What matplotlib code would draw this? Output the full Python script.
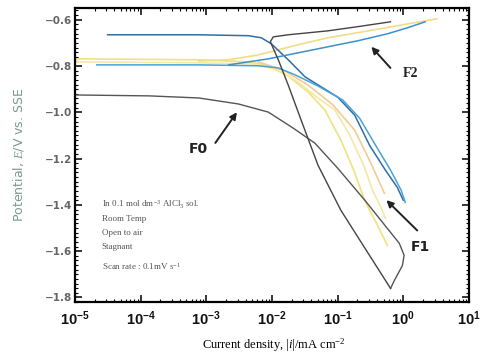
import matplotlib
matplotlib.use('Agg')
import matplotlib.pyplot as plt
from matplotlib.ticker import MultipleLocator, LogLocator, NullFormatter, FuncFormatter
import numpy as np

# F0: forward cathodic scan and reverse scan (current mA cm-2, potential V)
f0_fwd_i = [1.0e-5, 1.36e-4, 7.7e-4, 3.1e-3, 8.8e-3, 0.021, 0.045, 0.10, 0.26, 0.57, 0.87, 1.03, 0.97, 0.73, 0.64]
f0_fwd_e = [-0.925, -0.929, -0.938, -0.964, -0.999, -1.068, -1.133, -1.241, -1.380, -1.501, -1.566, -1.618, -1.662, -1.727, -1.761]
f0_rev_i = [0.64, 0.286, 0.112, 0.0502, 0.0278, 0.0177, 0.0125, 0.00946, 0.0105, 0.0177, 0.0711, 0.202, 0.637]
f0_rev_e = [-1.761, -1.605, -1.423, -1.228, -1.033, -0.882, -0.773, -0.695, -0.674, -0.665, -0.648, -0.630, -0.609]

# F2 (blue)
f2a_i = [3.15e-5, 7.7e-4, 4.4e-3, 6.9e-3, 9.8e-3, 0.0177, 0.032, 0.10, 0.182, 0.306, 0.535, 0.81, 1.0]
f2a_e = [-0.665, -0.665, -0.669, -0.678, -0.704, -0.773, -0.847, -0.934, -1.012, -1.142, -1.250, -1.324, -1.380]
f2b_i = [2.15e-5, 7.7e-4, 6.2e-3, 0.0125, 0.0225, 0.050, 0.12, 0.216, 0.378, 0.64, 0.93, 1.07]
f2b_e = [-0.795, -0.795, -0.799, -0.808, -0.838, -0.886, -0.947, -1.025, -1.142, -1.250, -1.337, -1.389]
f2_an_i = [2.19e-3, 8.8e-3, 0.025, 0.071, 0.202, 0.57, 1.15, 2.15]
f2_an_e = [-0.795, -0.769, -0.743, -0.717, -0.691, -0.661, -0.635, -0.609]

# F1 (yellow)
f1a_i = [1.0e-5, 7.7e-4, 4.4e-3, 8.8e-3, 0.0177, 0.0355, 0.064, 0.112, 0.176, 0.258, 0.405, 0.573]
f1a_e = [-0.769, -0.773, -0.782, -0.799, -0.843, -0.912, -0.990, -1.120, -1.250, -1.380, -1.488, -1.575]
f1b_i = [1.0e-5, 7.7e-4, 5.2e-3, 0.0125, 0.025, 0.050, 0.091, 0.153, 0.249, 0.34, 0.466, 0.535]
f1b_e = [-0.782, -0.786, -0.791, -0.817, -0.869, -0.938, -0.990, -1.098, -1.228, -1.337, -1.415, -1.458]
f1c_i = [6.2e-3, 0.0148, 0.0355, 0.085, 0.182, 0.306, 0.516]
f1c_e = [-0.782, -0.817, -0.882, -0.968, -1.077, -1.207, -1.350]
f1_an_i = [7.7e-4, 2.19e-3, 6.2e-3, 0.025, 0.071, 0.202, 0.81, 3.26]
f1_an_e = [-0.778, -0.773, -0.752, -0.708, -0.678, -0.656, -0.626, -0.596]

x_ticks = [1e-5, 1e-4, 1e-3, 1e-2, 1e-1, 1e0, 1e1]
y_ticks = [-0.6, -0.8, -1.0, -1.2, -1.4, -1.6, -1.8]

conditions = ["In 0.1 mol dm$^{-3}$ AlCl$_3$ sol.", "Room Temp", "Open to air", "Stagnant",
              "Scan rate : 0.1mV s$^{-1}$"]

plt.rcParams['mathtext.fontset'] = 'custom'
plt.rcParams['mathtext.rm'] = 'Liberation Serif'
plt.rcParams['mathtext.it'] = 'Liberation Serif:italic'
plt.rcParams['mathtext.bf'] = 'Liberation Sans:bold'

fig = plt.figure(figsize=(4.8, 3.55), dpi=100)
ax = fig.add_axes([0.156, 0.149, 0.821, 0.828])

ax.plot(f1a_i, f1a_e, color='#f0e27c', lw=1.2)
ax.plot(f1b_i, f1b_e, color='#f5e8a6', lw=1.2)
ax.plot(f1c_i, f1c_e, color='#f3cc92', lw=1.2)
ax.plot(f1_an_i, f1_an_e, color='#f1dc8a', lw=1.2)
ax.plot(f2a_i, f2a_e, color='#2f6fa5', lw=1.1)
ax.plot(f2b_i, f2b_e, color='#4aa3d6', lw=1.1)
ax.plot(f2_an_i, f2_an_e, color='#3f8fc8', lw=1.1)
ax.plot(f0_fwd_i, f0_fwd_e, color='#555555', lw=1.0)
ax.plot(f0_rev_i, f0_rev_e, color='#444444', lw=1.0)

ax.set_xscale('log')
ax.set_xlim(1e-5, 1e1)
ax.set_ylim(-1.82, -0.55)
ax.set_yticks(y_ticks)
ax.yaxis.set_minor_locator(MultipleLocator(0.02))
ax.set_xticks(x_ticks)
ax.xaxis.set_major_formatter(FuncFormatter(lambda v, p: '$\\mathbf{10^{%d}}$' % round(np.log10(v))))
ax.xaxis.set_minor_locator(LogLocator(base=10, subs=range(2, 10), numticks=20))
ax.xaxis.set_minor_formatter(NullFormatter())

for s in ax.spines.values():
    s.set_linewidth(1.6)
ax.tick_params(which='both', direction='in', top=True, right=True)
ax.tick_params(which='major', length=5, width=1.1)
ax.tick_params(which='minor', length=2.5, width=0.8)
ax.tick_params(axis='y', labelsize=7.5, labelcolor='#666666', pad=2)
ax.tick_params(axis='x', labelsize=10.5, pad=5, labelcolor='#111111')
for lab in ax.get_yticklabels():
    lab.set_fontweight('bold')

ax.set_ylabel('Potential, $\\it{E}$/V vs. SSE', fontsize=9, color='#7a9a8c')
ax.yaxis.set_label_coords(-0.125, 0.5)
ax.set_xlabel('Current density, |$\\it{i}$|/mA cm$^{-2}$', fontsize=9, family='Liberation Serif')
ax.xaxis.set_label_coords(0.504, -0.115)

line_y = [0.330, 0.282, 0.235, 0.187, 0.122]
for txt, yy in zip(conditions, line_y):
    ax.text(0.068, yy, txt, transform=ax.transAxes, fontsize=6.5, color='#555555',
            family='Liberation Serif', va='center', ha='left')

arrow = dict(arrowstyle='-|>', color='#222222', lw=1.4, mutation_scale=10)
ax.annotate('', xy=(3.1e-3, -0.99), xytext=(1.3e-3, -1.142), arrowprops=arrow)
ax.text(7.5e-4, -1.159, 'F0', fontsize=10, fontweight='bold', ha='center', va='center', color='#222222')
ax.annotate('', xy=(0.306, -0.708), xytext=(0.68, -0.817), arrowprops=arrow)
ax.text(1.3, -0.834, 'F2', fontsize=10, fontweight='bold', ha='center', va='center', color='#222222',
        family='Liberation Serif')
ax.annotate('', xy=(0.516, -1.371), xytext=(1.75, -1.519), arrowprops=arrow)
ax.text(1.85, -1.584, 'F1', fontsize=10, fontweight='bold', ha='center', va='center', color='#222222')

fig.savefig('out.png', dpi=100)
